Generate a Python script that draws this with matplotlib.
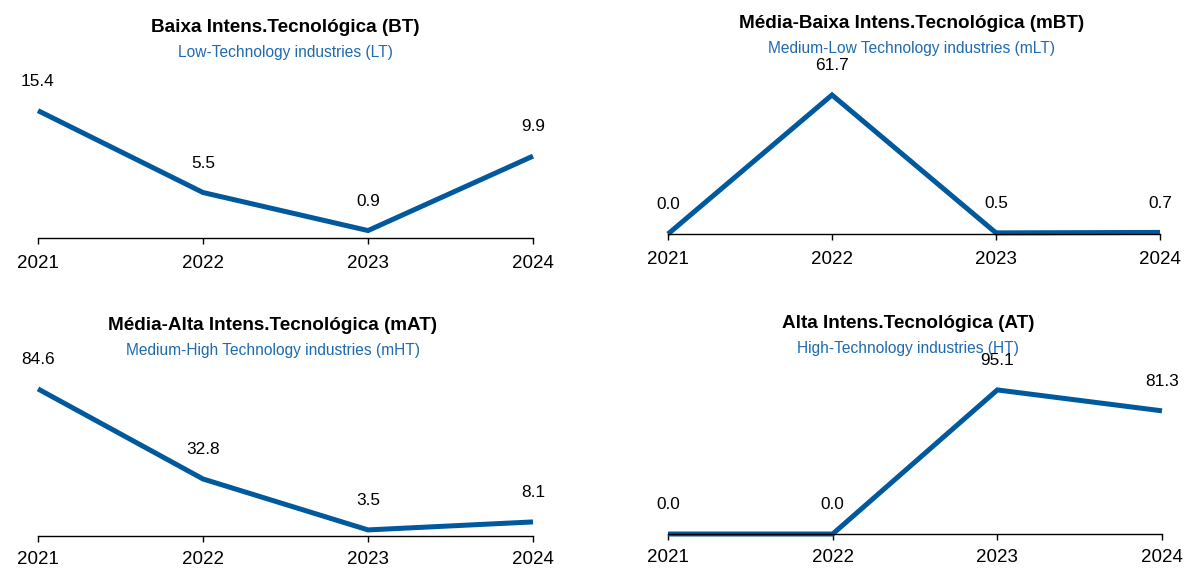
import matplotlib
matplotlib.use("Agg")
import matplotlib.pyplot as plt

# dados
years = [2021, 2022, 2023, 2024]
bt_values = [15.4, 5.5, 0.9, 9.9]
mbt_values = [0.0, 61.7, 0.5, 0.7]
mat_values = [84.6, 32.8, 3.5, 8.1]
at_values = [0.0, 0.0, 95.1, 81.3]

titles = ["Baixa Intens.Tecnológica (BT)", "Média-Baixa Intens.Tecnológica (mBT)",
          "Média-Alta Intens.Tecnológica (mAT)", "Alta Intens.Tecnológica (AT)"]
subtitles = ["Low-Technology industries (LT)", "Medium-Low Technology industries (mLT)",
             "Medium-High Technology industries (mHT)", "High-Technology industries (HT)"]

W, H = 1186, 568
line_color = "#00599c"
sub_color = "#1f6aae"

plt.rcParams['font.family'] = ['Liberation Sans', 'DejaVu Sans']

fig = plt.figure(figsize=(W / 100, H / 100), dpi=100)

# (left px, right px, axis y px, title center x px, ylim top, tick pad)
layout = [
    (38, 533, 238, 285, 18.5, 8),
    (668, 1160, 234, 912, 67.9, 8),
    (38, 533, 536, 273, 88.0, 6),
    (668, 1162, 534, 908, 101.0, 6),
]
series = [bt_values, mbt_values, mat_values, at_values]
axh = 153

for i, (vals, (l, r, yb, tx, ytop, pad)) in enumerate(zip(series, layout)):
    ax = fig.add_axes([l / W, 1 - yb / H, (r - l) / W, axh / H])
    ax.plot(years, vals, color=line_color, lw=3.6, clip_on=False,
            solid_capstyle='butt', solid_joinstyle='miter')
    for x, v in zip(years, vals):
        ax.annotate(f"{v:.1f}", (x, v), xytext=(0, 21), textcoords='offset points',
                    ha='center', va='center', fontsize=12.4, annotation_clip=False)
    ax.set_xlim(years[0], years[-1])
    ax.set_ylim(0, ytop)
    ax.set_xticks(years)
    ax.set_xticklabels([str(y) for y in years], fontsize=13.5)
    ax.set_yticks([])
    for s in ['top', 'right', 'left']:
        ax.spines[s].set_visible(False)
    ax.spines['bottom'].set_linewidth(1.0)
    ax.tick_params(axis='x', length=4.5, width=1.0, pad=pad)
    ax.patch.set_alpha(0)

    top = yb - axh
    fig.text(tx / W, 1 - (top - 58) / H, titles[i], ha='center', va='center',
             fontsize=13.6, fontweight='bold')
    fig.text(tx / W, 1 - (top - 33) / H, subtitles[i], ha='center', va='center',
             fontsize=11.2, color=sub_color)

fig.savefig("out.png", dpi=100)
